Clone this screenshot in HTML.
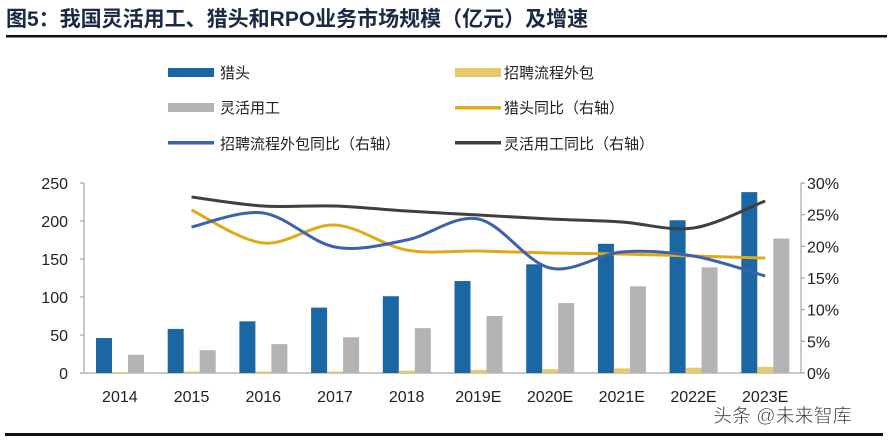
<!DOCTYPE html>
<html><head><meta charset="utf-8"><style>
body{margin:0;background:#fff;width:891px;height:437px;overflow:hidden;font-family:"Liberation Sans","Noto Sans CJK SC",sans-serif;}
</style></head><body>
<svg id="s" width="891" height="437" xmlns="http://www.w3.org/2000/svg" font-family="Liberation Sans, Noto Sans CJK SC, sans-serif">
<text x="6" y="26" font-size="21" font-weight="bold" fill="#1a2a44">图5：我国灵活用工、猎头和RPO业务市场规模（亿元）及增速</text>
<rect x="6" y="35" width="881" height="2.5" fill="#111"/>
<g font-size="15" fill="#222">
<rect x="168" y="68" width="46" height="9" fill="#1a67a3"/><text x="220" y="78">猎头</text>
<rect x="455" y="68" width="46" height="9" fill="#e6c96a"/><text x="504" y="78">招聘流程外包</text>
<rect x="168" y="103" width="46" height="9" fill="#b3b3b3"/><text x="220" y="113">灵活用工</text>
<rect x="455" y="106" width="46" height="3.5" fill="#e0aa14"/><text x="504" y="113">猎头同比（右轴）</text>
<rect x="168" y="141" width="46" height="3.5" fill="#3d62ad"/><text x="220" y="149">招聘流程外包同比（右轴）</text>
<rect x="455" y="141" width="46" height="3.5" fill="#404040"/><text x="504" y="149">灵活用工同比（右轴）</text>
</g>
<g id="ax" stroke="#a6a6a6" stroke-width="1.2"></g>
<g id="bars"></g>
<g id="lines" fill="none" stroke-width="3"></g>
<g id="lab" font-size="16" fill="#222"></g>
<text x="713" y="422" font-size="19" fill="#333" stroke="#fff" stroke-width="0.5">头条 @未来智库</text>
<rect x="5" y="433" width="878" height="3" fill="#111"/>
</svg>
<script>
var NS="http://www.w3.org/2000/svg",L=84,R=801,T=183,B=373,cw=(R-L)/10;
function el(p,t,a,txt){var e=document.createElementNS(NS,t);for(var k in a)e.setAttribute(k,a[k]);if(txt!=null)e.textContent=txt;document.getElementById(p).appendChild(e);return e;}
el("ax","line",{x1:L,y1:T,x2:L,y2:B});el("ax","line",{x1:R,y1:T,x2:R,y2:B});el("ax","line",{x1:L,y1:B,x2:R,y2:B});
for(var i=0;i<=5;i++){var y=B-i*38;el("ax","line",{x1:L-4,y1:y,x2:L,y2:y});
el("lab","text",{x:68,y:y+6,"text-anchor":"end"},String(i*50));}
for(var i=0;i<=6;i++){var y=B-i*190/6;el("ax","line",{x1:R,y1:y,x2:R+4,y2:y});el("lab","text",{x:807,y:y+6},(i*5)+"%");}
var yrs=["2014","2015","2016","2017","2018","2019E","2020E","2021E","2022E","2023E"];
var bl=[46,58,68,86,101,121,143,170,201,238],gr=[24,30,38,47,59,75,92,114,139,177],ye=[1,2,2,2,3,4,5,6,7,8];
for(var i=0;i<10;i++){var c=L+i*cw;
el("bars","rect",{x:c+12,y:B-bl[i]*0.76,width:16,height:bl[i]*0.76,fill:"#1a67a3"});
el("bars","rect",{x:c+28,y:B-ye[i]*0.76,width:16,height:ye[i]*0.76,fill:"#e6c96a"});
el("bars","rect",{x:c+44,y:B-gr[i]*0.76,width:16,height:gr[i]*0.76,fill:"#b3b3b3"});
el("lab","text",{x:c+cw/2,y:402,"text-anchor":"middle"},yrs[i]);}
function path(ys){var p=ys.map(function(y,i){return [L+(i+1.5)*cw,y];});var d="M"+p[0][0]+","+p[0][1];
for(var i=0;i<p.length-1;i++){var p0=p[i-1]||p[i],p1=p[i],p2=p[i+1],p3=p[i+2]||p2;
d+=" C"+(p1[0]+(p2[0]-p0[0])/6)+","+(p1[1]+(p2[1]-p0[1])/6)+" "+(p2[0]-(p3[0]-p1[0])/6)+","+(p2[1]-(p3[1]-p1[1])/6)+" "+p2[0]+","+p2[1];}return d;}
el("lines","path",{d:path([197,206,206,211,215,219,222,228,201]),stroke:"#404040"});
el("lines","path",{d:path([210,243,225,250,251,253,254,256,258]),stroke:"#e0aa14"});
el("lines","path",{d:path([227,213,247,240,219,268,252,256,276]),stroke:"#3d62ad"});
</script>
</body></html>
